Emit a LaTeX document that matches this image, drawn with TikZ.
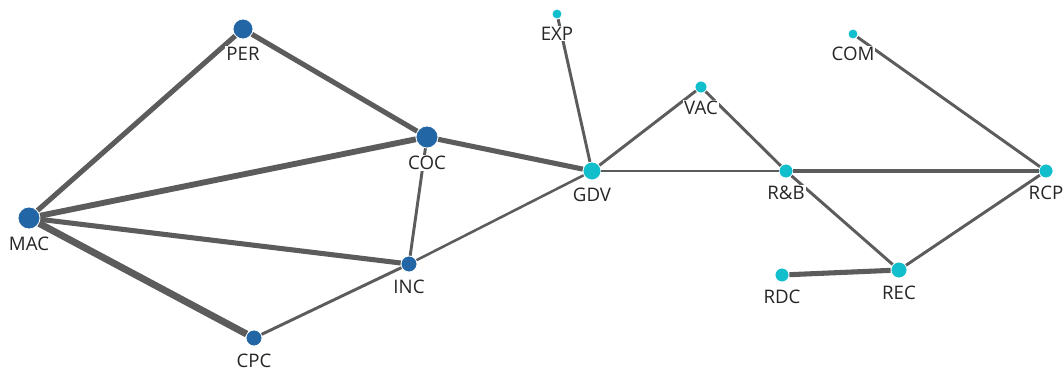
\documentclass[tikz,border=0pt]{standalone}
\usepackage{fontspec}
\setmainfont{Open Sans}
\usetikzlibrary{positioning}
\definecolor{hubblue}{RGB}{35,102,166}
\definecolor{leafcyan}{RGB}{16,190,204}
\definecolor{linkgray}{RGB}{92,92,92}

\begin{document}
\begin{tikzpicture}[x=0.75pt,y=-0.75pt,
  dot/.style={circle,inner sep=0pt,draw=white,line width=0.6pt},
  hub/.style={dot,fill=hubblue},
  leaf/.style={dot,fill=leafcyan},
  lab/.style={fill=white,inner sep=0.8pt,text=black!85,font=\fontsize{14}{16}\selectfont},
  link/.style={draw=linkgray,line width=#1},
  link/.default=2.2pt]

\useasboundingbox (0,0) rectangle (1064,371);

%left cluster
\node[hub,minimum size=15pt]   (PER) at (243,29)  {};
\node[hub,minimum size=16.5pt] (MAC) at (29,218)  {};
\node[hub,minimum size=16.5pt] (COC) at (427,137) {};
\node[hub,minimum size=12pt]   (INC) at (409,264) {};
\node[hub,minimum size=12pt]   (CPC) at (254,338) {};

%right cluster
\node[leaf,minimum size=13.5pt] (GDV) at (592,171)  {};
\node[leaf,minimum size=7.5pt]  (EXP) at (557,14)   {};
\node[leaf,minimum size=9pt]    (VAC) at (701,87)   {};
\node[leaf,minimum size=10.5pt] (RB)  at (786,171)  {};
\node[leaf,minimum size=7.5pt]  (COM) at (853,34)   {};
\node[leaf,minimum size=10.5pt] (RCP) at (1046,171) {};
\node[leaf,minimum size=12pt]   (REC) at (899,270)  {};
\node[leaf,minimum size=10.5pt] (RDC) at (782,275)  {};

%links, width = weight
\draw[link=3.8pt] (MAC) -- (PER);
\draw[link=3.8pt] (PER) -- (COC);
\draw[link=4.4pt] (MAC) -- (COC);
\draw[link=3.8pt] (MAC) -- (INC);
\draw[link=5.2pt] (MAC) -- (CPC);
\draw[link] (COC) -- (INC);
\draw[link] (INC) -- (CPC);
\draw[link=1.9pt] (INC) -- (GDV);
\draw[link=3.8pt] (COC) -- (GDV);
\draw[link] (GDV) -- (EXP);
\draw[link] (GDV) -- (VAC);
\draw[link] (VAC) -- (RB);
\draw[link] (GDV) -- (RB);
\draw[link=3.4pt] (RB) -- (RCP);
\draw[link] (COM) -- (RCP);
\draw[link] (RB) -- (REC);
\draw[link] (REC) -- (RCP);
\draw[link=3.8pt] (RDC) -- (REC);

%labels on top of the links
\node[lab,below=4.5pt of PER] (PERl) {PER};
\node[lab,below=4.5pt of MAC] (MACl) {MAC};
\node[lab,below=4.5pt of COC] (COCl) {COC};
\node[lab,below=4.5pt of INC] (INCl) {INC};
\node[lab,below=4.5pt of CPC] (CPCl) {CPC};
\node[lab,below=4.5pt of GDV] (GDVl) {GDV};
\node[lab,below=4.5pt of EXP] (EXPl) {EXP};
\node[lab,below=4.5pt of VAC] (VACl) {VAC};
\node[lab,below=4.5pt of RB]  (RBl)  {R\&B};
\node[lab,below=4.5pt of COM] (COMl) {COM};
\node[lab,below=4.5pt of RCP] (RCPl) {RCP};
\node[lab,below=4.5pt of REC] (RECl) {REC};
\node[lab,below=4.5pt of RDC] (RDCl) {RDC};

\end{tikzpicture}
\end{document}
